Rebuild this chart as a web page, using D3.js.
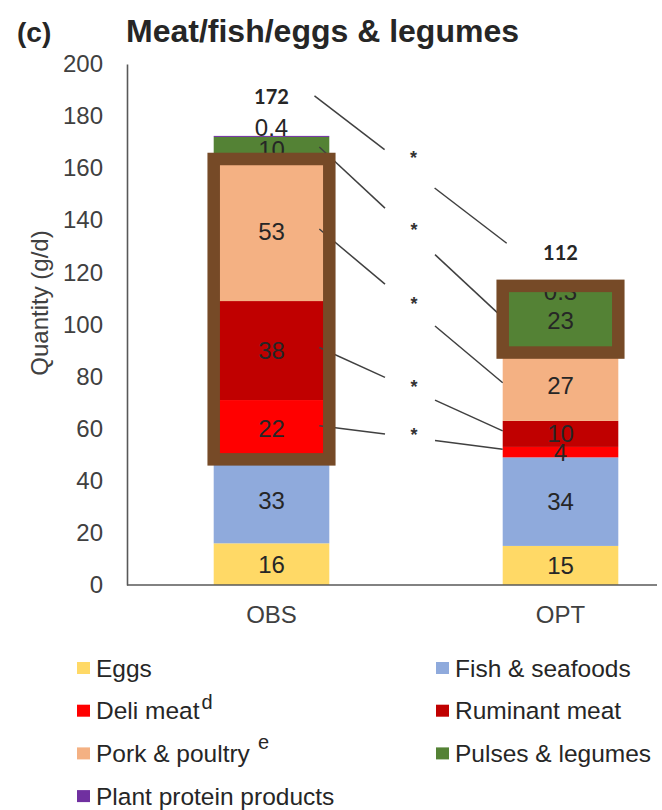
<!DOCTYPE html>
<html>
<head>
<meta charset="utf-8">
<script src="https://cdn.jsdelivr.net/npm/d3@7"></script>
<style>
  body { margin: 0; background: #fff; }
  svg { display: block; }
</style>
</head>
<body>
<svg id="chart" width="662" height="810"></svg>
<script>
// Daily intake (g/d) of the meat/fish/eggs & legumes group, observed vs optimised diet
const scenarios = ["OBS", "OPT"];
const groups = ["Eggs", "Fish & seafoods", "Deli meat", "Ruminant meat",
                "Pork & poultry", "Pulses & legumes", "Plant protein products"];
const eggs = [16, 15];
const fishSeafoods = [33, 34];
const deliMeat = [22, 4];
const ruminantMeat = [38, 10];
const porkPoultry = [53, 27];
const pulsesLegumes = [10, 23];
const plantProtein = [0.4, 0.3];
const totals = [172, 112];
const yTicks = [0, 20, 40, 60, 80, 100, 120, 140, 160, 180, 200];
const legendSuperscripts = ["", "", "d", "", "e", "", ""];
// groups whose change between the two diets is significant (*)
const significantGroups = ["Deli meat", "Ruminant meat", "Pork & poultry", "Pulses & legumes"];
// groups framed on each bar
const framedOBS = ["Deli meat", "Ruminant meat", "Pork & poultry"];
const framedOPT = ["Pulses & legumes", "Plant protein products"];

const colors = ["#FFD966", "#8FAADC", "#FF0000", "#C00000", "#F4B183", "#548235", "#7030A0"];
const seriesValues = [eggs, fishSeafoods, deliMeat, ruminantMeat, porkPoultry, pulsesLegumes, plantProtein];

const table = scenarios.map((s, i) => {
  const row = { scenario: s };
  groups.forEach((g, k) => { row[g] = seriesValues[k][i]; });
  return row;
});

const svg = d3.select("#chart");
const FONT = "'Liberation Sans', Arial, sans-serif";
const TEXT = "#262626";

const x = d3.scaleBand().domain(scenarios).range([127, 705]).paddingInner(0.6).paddingOuter(0.3);
const y = d3.scaleLinear().domain([0, 200]).range([585, 64]);
const color = d3.scaleOrdinal().domain(groups).range(colors);

const stacked = d3.stack().keys(groups)(table);

// Title
svg.append("text").attr("x", 17).attr("y", 42)
  .attr("font-family", FONT).attr("font-weight", "bold").attr("font-size", 28)
  .attr("fill", TEXT).text("(c)");
svg.append("text").attr("x", 126).attr("y", 42)
  .attr("font-family", FONT).attr("font-weight", "bold").attr("font-size", 32)
  .attr("fill", TEXT).text("Meat/fish/eggs & legumes");

// Y axis
const yAxis = svg.append("g").attr("transform", "translate(127,0)")
  .call(d3.axisLeft(y).tickValues(yTicks).tickSize(0).tickPadding(24));
yAxis.select(".domain").attr("stroke", "#595959").attr("stroke-width", 1.6);
yAxis.selectAll("text").attr("font-family", FONT).attr("font-size", 24).attr("fill", "#404040");

svg.append("text")
  .attr("transform", "translate(40,303) rotate(-90)")
  .attr("text-anchor", "middle").attr("dy", "0.35em")
  .attr("font-family", FONT).attr("font-size", 24).attr("fill", "#404040")
  .text("Quantity (g/d)");

// Bars
const layers = svg.append("g").selectAll("g").data(stacked).join("g")
  .attr("fill", d => color(d.key));
layers.selectAll("rect").data(d => d).join("rect")
  .attr("x", d => x(d.data.scenario))
  .attr("width", x.bandwidth())
  .attr("y", d => y(d[1]))
  .attr("height", d => y(d[0]) - y(d[1]));

// X axis
const xAxis = svg.append("g").attr("transform", "translate(0,585)")
  .call(d3.axisBottom(x).tickSize(0).tickPadding(21));
xAxis.select(".domain").remove();
xAxis.selectAll("text").attr("font-family", FONT).attr("font-size", 24).attr("fill", "#404040");
svg.append("line").attr("x1", 127).attr("x2", 657).attr("y1", y(0)).attr("y2", y(0))
  .attr("stroke", "#595959").attr("stroke-width", 1.6);

// Segment value labels
const plantShift = [-8, 2];
const labels = svg.append("g").attr("font-family", FONT).attr("font-size", 24)
  .attr("fill", TEXT).attr("text-anchor", "middle");
stacked.forEach(layer => {
  layer.forEach((d, i) => {
    let cy = y((d[0] + d[1]) / 2);
    if (layer.key === "Plant protein products") cy = y(d[1]) + plantShift[i];
    labels.append("text")
      .attr("x", x(d.data.scenario) + x.bandwidth() / 2)
      .attr("y", cy).attr("dy", "0.35em")
      .text(d.data[layer.key]);
  });
});

// Totals
svg.append("g").selectAll("text").data(scenarios).join("text")
  .attr("x", s => x(s) + x.bandwidth() / 2)
  .attr("y", (s, i) => y(totals[i]) - 40).attr("dy", "0.35em")
  .attr("text-anchor", "middle")
  .attr("font-family", "Lato, 'Open Sans', sans-serif").attr("font-weight", "bold")
  .attr("font-size", 20).attr("fill", TEXT)
  .text((s, i) => totals[i]);

// Connectors between the two diets, each broken by a significance star
const layerOf = k => stacked.find(l => l.key === k);
const links = significantGroups.map(k => {
  const l = layerOf(k);
  return {
    x1: x("OBS") + x.bandwidth() - 10, y1: y((l[0][0] + l[0][1]) / 2) - 3,
    x2: x("OPT"), y2: y((l[1][0] + l[1][1]) / 2) - 3,
    lift: 0
  };
});
links.unshift({
  x1: x("OBS") + x.bandwidth() / 2 + 43, y1: y(totals[0]) - 41,
  x2: x("OPT") + 4, y2: y(totals[1]) - 50,
  lift: 10
});
const linkG = svg.append("g");
links.forEach(L => {
  const xm = (L.x1 + L.x2) / 2;
  const at = xx => L.y1 + (L.y2 - L.y1) * (xx - L.x1) / (L.x2 - L.x1);
  const a = xm - 26, b = xm + 24;
  const sy = at(xm) - L.lift;
  linkG.append("line").attr("x1", L.x1).attr("y1", L.y1).attr("x2", a).attr("y2", at(a));
  linkG.append("line").attr("x1", b).attr("y1", at(b)).attr("x2", L.x2).attr("y2", L.y2);
  linkG.append("text").attr("x", xm + 3).attr("y", sy + 4)
    .attr("text-anchor", "middle").attr("font-family", FONT).attr("font-weight", "bold")
    .attr("font-size", 18).attr("fill", "#333").text("*");
});
linkG.selectAll("line").attr("stroke", "#404040").attr("stroke-width", 1.5);

// Frames around highlighted groups
const frame = (scen, keys) => {
  const i = scenarios.indexOf(scen);
  const ls = keys.map(layerOf);
  const lo = d3.min(ls, l => l[i][0]);
  const hi = d3.max(ls, l => l[i][1]);
  svg.append("rect")
    .attr("x", x(scen)).attr("width", x.bandwidth())
    .attr("y", y(hi) - 4).attr("height", y(lo) - y(hi) + 6)
    .attr("fill", "none").attr("stroke", "#764A27").attr("stroke-width", 12.5);
};
frame("OBS", framedOBS);
frame("OPT", framedOPT);

// Legend
const legend = svg.append("g").attr("font-family", FONT).attr("font-size", 24.5).attr("fill", TEXT);
groups.forEach((g, k) => {
  const col = k % 2, row = Math.floor(k / 2);
  const sx = col === 0 ? 77 : 436;
  const cy = 668 + row * 42.7;
  legend.append("rect").attr("x", sx).attr("y", cy - 6).attr("width", 13).attr("height", 12)
    .attr("fill", colors[k]);
  const t = legend.append("text").attr("x", sx + 19).attr("y", cy).attr("dy", "0.35em");
  t.append("tspan").text(g);
  if (legendSuperscripts[k]) {
    const lift = k === 4 ? -13 : -10;
    t.append("tspan").attr("dx", k === 4 ? 8 : 2).attr("dy", lift)
      .attr("font-size", 20).text(legendSuperscripts[k]);
  }
});
</script>
</body>
</html>
